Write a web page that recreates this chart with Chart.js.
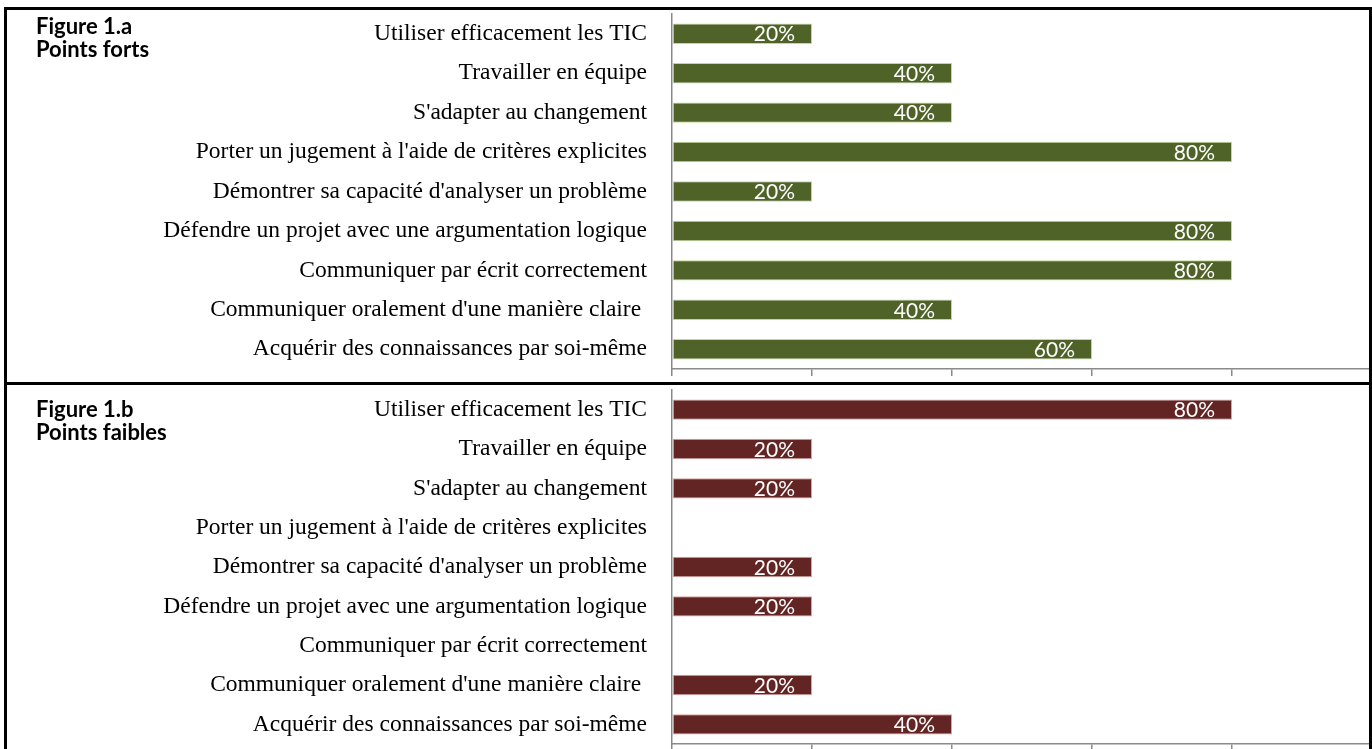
<!DOCTYPE html>
<html lang="fr">
<head>
    <meta charset="UTF-8">
    <title>Figure 1 - Points forts / Points faibles</title>
    <script src="https://cdn.jsdelivr.net/npm/chart.js"></script>
    <style>
        body {
            margin: 0;
            padding: 0;
            background: #ffffff;
            width: 1372px;
            height: 749px;
            overflow: hidden;
            position: relative;
        }

        canvas {
            position: absolute;
            left: 0;
        }

        .frame {
            position: absolute;
            box-sizing: border-box;
            border: 3px solid #000;
            pointer-events: none;
        }

        .fig-title {
            position: absolute;
            left: 36px;
            font-family: Lato, 'Open Sans', sans-serif;
            font-weight: bold;
            font-size: 22px;
            line-height: 23px;
            color: #000;
        }
    </style>
</head>
<body>
    <canvas id="chartForts" width="1372" height="382" style="top:0"></canvas>
    <canvas id="chartFaibles" width="1372" height="372" style="top:385px"></canvas>

    <div class="frame" style="left:4px; top:7px; width:1368px; height:378px;"></div>
    <div class="frame" style="left:4px; top:382px; width:1368px; height:400px;"></div>

    <div class="fig-title" style="top:14px">Figure 1.a<br>Points forts</div>
    <div class="fig-title" style="top:397px">Figure 1.b<br>Points faibles</div>

    <script>
        // categories (same order for both figures)
        const categories = [
            "Utiliser efficacement les TIC",
            "Travailler en équipe",
            "S'adapter au changement",
            "Porter un jugement à l'aide de critères explicites",
            "Démontrer sa capacité d'analyser un problème",
            "Défendre un projet avec une argumentation logique",
            "Communiquer par écrit correctement",
            "Communiquer oralement d'une manière claire ",
            "Acquérir des connaissances par soi-même"
        ];

        // percentages
        const pointsForts = [20, 40, 40, 80, 20, 80, 80, 40, 60];
        const pointsFaibles = [80, 20, 20, null, 20, 20, null, 20, 40];

        const xTicks = [0, 20, 40, 60, 80, 100];

        const axisGray = '#8a8a8a';

        // white % labels inside the end of each bar
        const barLabels = {
            id: 'barLabels',
            afterDatasetsDraw(chart) {
                const ctx = chart.ctx;
                const meta = chart.getDatasetMeta(0);
                const data = chart.data.datasets[0].data;
                ctx.save();
                ctx.font = '21px Lato, "Open Sans", sans-serif';
                ctx.fillStyle = '#ffffff';
                ctx.textAlign = 'right';
                ctx.textBaseline = 'middle';
                meta.data.forEach((bar, i) => {
                    const v = data[i];
                    if (v == null || v === 0) return;
                    ctx.fillText(v + '%', bar.x - 17, bar.y + 1);
                });
                ctx.restore();
            }
        };

        function makeChart(id, values, fill, edge, padTop) {
            return new Chart(document.getElementById(id), {
                type: 'bar',
                data: {
                    labels: categories,
                    datasets: [{
                        data: values,
                        backgroundColor: fill,
                        borderColor: edge,
                        borderWidth: 1,
                        borderSkipped: false,
                        barPercentage: 0.72,
                        categoryPercentage: 0.72
                    }]
                },
                options: {
                    indexAxis: 'y',
                    responsive: false,
                    animation: false,
                    devicePixelRatio: 1,
                    layout: { padding: { top: padTop, left: 0, right: 0, bottom: 0 } },
                    plugins: {
                        legend: { display: false },
                        tooltip: { enabled: false }
                    },
                    scales: {
                        x: {
                            min: 0,
                            max: 100,
                            afterBuildTicks: (scale) => {
                                scale.ticks = xTicks.map(v => ({ value: v }));
                            },
                            afterFit: (scale) => {
                                scale.height = 13;
                                scale.paddingLeft = 0;
                                scale.paddingRight = 0;
                            },
                            ticks: { display: false },
                            grid: {
                                drawOnChartArea: false,
                                drawTicks: true,
                                tickLength: 7,
                                color: axisGray,
                                lineWidth: 1.5
                            },
                            border: { display: true, color: axisGray, width: 1.5 }
                        },
                        y: {
                            afterFit: (scale) => {
                                scale.width = 672;
                                scale.paddingTop = 0;
                                scale.paddingBottom = 0;
                            },
                            ticks: {
                                color: '#000',
                                padding: 25,
                                autoSkip: false,
                                font: { family: '"Liberation Serif", "Times New Roman", serif', size: 23.5 }
                            },
                            grid: { drawOnChartArea: false, drawTicks: false },
                            border: { display: true, color: axisGray, width: 1.5 }
                        }
                    }
                },
                plugins: [barLabels]
            });
        }

        makeChart('chartForts', pointsForts, '#4f6228', '#c3d69b', 14);
        makeChart('chartFaibles', pointsFaibles, '#632523', '#d9a3a2', 5);
    </script>
</body>
</html>
